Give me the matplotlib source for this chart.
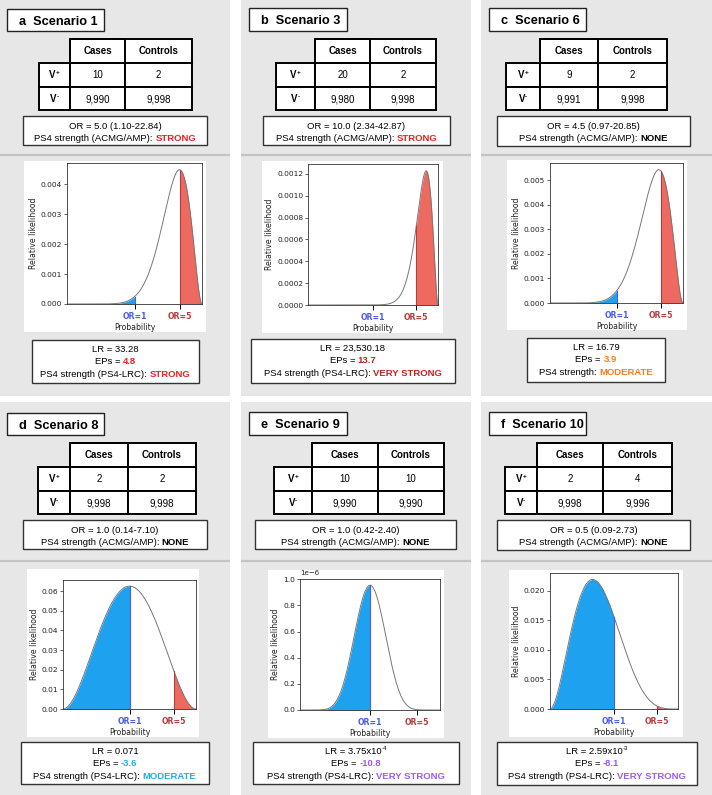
import numpy as np
import matplotlib
matplotlib.use("Agg")
import matplotlib.pyplot as plt
from matplotlib.patches import Rectangle

# ---------------- data ----------------
panel_letters = ["a", "b", "c", "d", "e", "f"]
scenarios = [1, 3, 6, 8, 9, 10]
cases_pos = [10, 20, 9, 2, 10, 2]
controls_pos = [2, 2, 2, 2, 10, 4]
cases_neg = [9990, 9980, 9991, 9998, 9990, 9998]
controls_neg = [9998, 9998, 9998, 9998, 9990, 9996]
or_text = ["5.0 (1.10-22.84)", "10.0 (2.34-42.87)", "4.5 (0.97-20.85)",
           "1.0 (0.14-7.10)", "1.0 (0.42-2.40)", "0.5 (0.09-2.73)"]
acmg_strength = ["STRONG", "STRONG", "NONE", "NONE", "NONE", "NONE"]
lr_main = ["33.28", "23,530.18", "16.79", "0.071", "3.75x10", "2.59x10"]
lr_exp = ["", "", "", "", "-4", "-3"]
eps_values = ["4.8", "13.7", "3.9", "-3.6", "-10.8", "-8.1"]
lrc_label = ["PS4 strength (PS4-LRC): ", "PS4 strength (PS4-LRC): ", "PS4 strength: ",
             "PS4 strength (PS4-LRC): ", "PS4 strength (PS4-LRC): ", "PS4 strength (PS4-LRC): "]
lrc_strength = ["STRONG", "VERY STRONG", "MODERATE", "MODERATE", "VERY STRONG", "VERY STRONG"]
or_marks = [1, 5]
or_labels = ["OR=1", "OR=5"]

# ---------------- style ----------------
strength_colors = ["#ee2020", "#c81e1e", "#ff7a1a", "#20ade8", "#9a5cf4", "#9a5cf4"]
acmg_colors = {"STRONG": "#ee2020", "NONE": "#000000"}
BLUE_FILL = "#1ea2f0"
RED_FILL = "#ee6a60"
OR1_COL = "#4a5cf0"
OR5_COL = "#b83a3a"
PANEL_BG = "#e7e7e7"
BOXFONT = ["Liberation Sans", "DejaVu Sans"]

W, H = 712, 795
fig = plt.figure(figsize=(W / 100, H / 100), dpi=100)
bg = fig.add_axes([0, 0, 1, 1])
bg.set_xlim(0, W)
bg.set_ylim(H, 0)
bg.axis("off")
renderer = fig.canvas.get_renderer()

col_x = [(0, 230), (241, 471), (481, 712)]
row_y = [(0, 396), (402, 795)]
divider_y = [155, 561]
dy_rows = [0, 404]

title_boxes = [(7, 9, 104, 31), (249, 8, 347, 31), (489, 8, 586, 31)]
table_cols = [[39, 70, 125, 192], [276, 315, 370, 436], [506, 540, 598, 667],
              [38, 70, 128, 196], [274, 312, 378, 444], [505, 537, 603, 672]]
table_rows = [39, 63, 87, 110]
or_boxes = [(23, 116, 207, 145), (263, 116, 450, 145), (497, 116, 690, 146),
            (23, 116, 207, 145), (255, 116, 456, 145), (497, 116, 690, 146)]
white_rects = [(24, 161, 206, 332), (262, 161, 443, 333), (507, 160, 687, 330),
               (27, 569, 199, 737), (268, 570, 444, 738), (509, 570, 683, 737)]
axes_rects = [(67, 163, 202, 304), (308, 164, 438, 305), (550, 163, 683, 303),
              (63, 580, 196, 709), (300, 579, 440, 710), (550, 573, 678, 709)]
lr_boxes = [(32, 340, 199, 383), (251, 339, 455, 383), (527, 338, 665, 382),
            (21, 742, 209, 784), (253, 742, 459, 784), (497, 742, 697, 785)]


def rect(x0, y0, x1, y1, fc, ec="none", lw=0.0, z=1):
    bg.add_patch(Rectangle((x0, y0), x1 - x0, y1 - y0, facecolor=fc, edgecolor=ec,
                           linewidth=lw, zorder=z))


def rich(cx, cy, pieces, fs, ha="center"):
    """pieces: (text, color, bold, superscript). cy = vertical centre in px."""
    fpx = fs * 100 / 72
    base = cy + 0.36 * fpx
    objs, widths = [], []
    for s, c, b, sup in pieces:
        size = fs * 0.65 if sup else fs
        yy = base - (0.42 * fpx if sup else 0)
        t = bg.text(0, yy, s, color=c, fontweight="bold" if b else "normal",
                    fontsize=size, family=BOXFONT, ha="left", va="baseline", zorder=5)
        objs.append(t)
        widths.append(t.get_window_extent(renderer).width)
    total = sum(widths)
    x = cx - total / 2 if ha == "center" else cx
    for t, w in zip(objs, widths):
        t.set_x(x)
        x += w


# panel backgrounds
for r, (y0, y1) in enumerate(row_y):
    for (x0, x1) in col_x:
        rect(x0, y0, x1, y1, PANEL_BG, z=0)
        bg.plot([x0, x1], [divider_y[r], divider_y[r]], color="#c4c4c4", lw=1.6, zorder=1,
                solid_capstyle="butt")

for i in range(6):
    r = i // 3
    c = i % 3
    dy = dy_rows[r]

    # title box
    tx0, ty0, tx1, ty1 = title_boxes[c]
    rect(tx0, ty0 + dy, tx1, ty1 + dy, "white", "#222222", 1.0, z=2)
    rich(tx0 + 12, (ty0 + ty1) / 2 + dy,
         [(f"{panel_letters[i]}  Scenario {scenarios[i]}", "black", True, False)], 9.2, ha="left")

    # 2x2 table
    cx = table_cols[i]
    ry = [v + dy for v in table_rows]
    rect(cx[1], ry[0], cx[3], ry[1], "white", "black", 1.4, z=2)
    for rr in range(1, 3):
        for cc in range(3):
            rect(cx[cc], ry[rr], cx[cc + 1], ry[rr + 1], "white", "black", 1.4, z=2)
    rect(cx[1], ry[0], cx[2], ry[1], "none", "black", 1.4, z=3)
    rich((cx[1] + cx[2]) / 2, (ry[0] + ry[1]) / 2, [("Cases", "black", True, False)], 7)
    rich((cx[2] + cx[3]) / 2, (ry[0] + ry[1]) / 2, [("Controls", "black", True, False)], 7)
    rich((cx[0] + cx[1]) / 2, (ry[1] + ry[2]) / 2, [("V", "black", True, False), ("+", "black", True, True)], 7)
    rich((cx[0] + cx[1]) / 2, (ry[2] + ry[3]) / 2, [("V", "black", True, False), ("-", "black", True, True)], 7)
    rich((cx[1] + cx[2]) / 2, (ry[1] + ry[2]) / 2, [(f"{cases_pos[i]:,}", "black", False, False)], 7)
    rich((cx[2] + cx[3]) / 2, (ry[1] + ry[2]) / 2, [(f"{controls_pos[i]:,}", "black", False, False)], 7)
    rich((cx[1] + cx[2]) / 2, (ry[2] + ry[3]) / 2, [(f"{cases_neg[i]:,}", "black", False, False)], 7)
    rich((cx[2] + cx[3]) / 2, (ry[2] + ry[3]) / 2, [(f"{controls_neg[i]:,}", "black", False, False)], 7)

    # OR box
    ox0, oy0, ox1, oy1 = or_boxes[i]
    oy0 += dy
    oy1 += dy
    rect(ox0, oy0, ox1, oy1, "white", "#333333", 1.0, z=2)
    ocx = (ox0 + ox1) / 2
    rich(ocx, oy0 + 10, [(f"OR = {or_text[i]}", "black", False, False)], 6.8)
    rich(ocx, oy0 + 21.5, [("PS4 strength (ACMG/AMP): ", "black", False, False),
                           (acmg_strength[i], acmg_colors[acmg_strength[i]], True, False)], 6.8)

    # white figure area
    wx0, wy0, wx1, wy1 = white_rects[i]
    rect(wx0, wy0, wx1, wy1, "white", z=1)

    # LR box
    lx0, ly0, lx1, ly1 = lr_boxes[i]
    rect(lx0, ly0, lx1, ly1, "white", "#333333", 1.0, z=2)
    lcx = (lx0 + lx1) / 2
    lr_pieces = [(f"LR = {lr_main[i]}", "black", False, False)]
    if lr_exp[i]:
        lr_pieces.append((lr_exp[i], "black", False, True))
    rich(lcx, ly0 + 8.5, lr_pieces, 6.8)
    rich(lcx, ly0 + 21, [("EPs = ", "black", False, False),
                         (eps_values[i], strength_colors[i], True, False)], 6.8)
    rich(lcx, ly0 + 33.5, [(lrc_label[i], "black", False, False),
                           (lrc_strength[i], strength_colors[i], True, False)], 6.8)

    # likelihood plot (likelihood of the case share among carriers, from the table counts)
    ax0, ay0, ax1, ay1 = axes_rects[i]
    ax = fig.add_axes([ax0 / W, 1 - ay1 / H, (ax1 - ax0) / W, (ay1 - ay0) / H])
    ax.set_facecolor("white")
    k, m = cases_pos[i], controls_pos[i]
    p = np.linspace(0, 1, 801)
    lik = p ** k * (1 - p) ** m
    p1 = or_marks[0] / (or_marks[0] + 1)
    p5 = or_marks[1] / (or_marks[1] + 1)
    ax.plot(p, lik, color="#777777", lw=0.7)
    ax.fill_between(p, 0, lik, where=p <= p1 + 1e-9, color=BLUE_FILL, lw=0)
    ax.fill_between(p, 0, lik, where=p >= p5 - 1e-9, color=RED_FILL, lw=0)
    l1 = p1 ** k * (1 - p1) ** m
    l5 = p5 ** k * (1 - p5) ** m
    ax.plot([p1, p1], [0, l1], color=OR1_COL, lw=0.8)
    ax.plot([p5, p5], [0, l5], color=OR5_COL, lw=0.8)
    ax.set_xlim(0, 1)
    ax.set_ylim(bottom=0)
    ax.set_xticks([p1, p5])
    ax.set_xticklabels(or_labels, fontsize=5.6, fontweight="bold")
    for t, col in zip(ax.xaxis.get_major_ticks(), [OR1_COL, OR5_COL]):
        t.tick1line.set_color(col)
        t.label1.set_color(col)
    ax.tick_params(axis="x", length=3.5, width=0.7, pad=2.5)
    ax.tick_params(axis="y", length=2, width=0.5, pad=1.5, labelsize=5.4, colors="#222222")
    ax.yaxis.get_offset_text().set_fontsize(5)
    ax.set_xlabel("Probability", fontsize=5.6, labelpad=1, color="#222222")
    ax.set_ylabel("Relative likelihood", fontsize=5.6, labelpad=2, color="#222222")
    for s in ax.spines.values():
        s.set_linewidth(0.6)
        s.set_color("#333333")

fig.savefig("out.png", dpi=100)
